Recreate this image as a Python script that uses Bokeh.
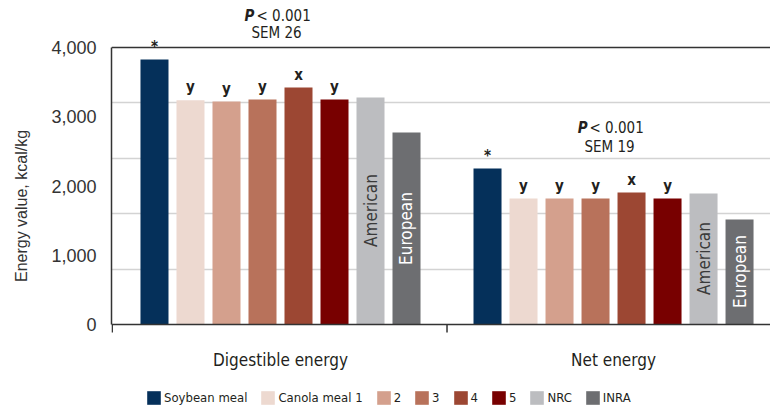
import math
from bokeh.plotting import figure
from bokeh.models import (ColumnDataSource, FixedTicker, NumeralTickFormatter, Legend,
                          LegendItem, Label, LabelSet, Span, Range1d)
from bokeh.core.properties import value
from bokeh.embed import file_html
from bokeh.resources import INLINE

# ---------------- data ----------------
groups = ["Digestible energy", "Net energy"]
series = ["Soybean meal", "Canola meal 1", "2", "3", "4", "5", "NRC", "INRA"]
colors = ["#05305a", "#edd9d0", "#d4a08d", "#b8725b", "#9c4733", "#780000", "#bcbdc0", "#6d6e71"]
de_values = [3827, 3239, 3220, 3249, 3422, 3249, 3278, 2773]
ne_values = [2253, 1819, 1819, 1819, 1906, 1819, 1892, 1516]
letters = ["*", "y", "y", "y", "x", "y", "", ""]
p_values = ["< 0.001", "< 0.001"]
sem_labels = ["SEM 26", "SEM 19"]
ref_names = {"NRC": "American", "INRA": "European"}
y_ticks = [0, 1000, 2000, 3000, 4000]

COND = "DejaVu Sans Condensed"
SANS = "Liberation Sans"
TXT = "#231f20"
AXC = "#333333"

GROUP_STEP = 9.25
BAR_W = 0.778
values_by_group = [de_values, ne_values]

def xpos(g, i):
    return g * GROUP_STEP + i

X0 = -1.194
p = figure(width=770, height=411, output_backend="svg", toolbar_location=None,
           x_range=Range1d(X0, 17.11), y_range=Range1d(-1256, 4679),
           x_axis_location=None,
           min_border_left=111, min_border_right=0, min_border_top=0, min_border_bottom=0)
p.outline_line_color = None
p.background_fill_color = "white"
p.border_fill_color = "white"

# bars, one renderer per series
items = []
for i, (name, col) in enumerate(zip(series, colors)):
    src = ColumnDataSource(dict(x=[xpos(g, i) for g in range(len(groups))],
                                top=[values_by_group[g][i] for g in range(len(groups))]))
    r = p.vbar(x="x", top="top", bottom=0, width=BAR_W, source=src, fill_color=col, line_color=None)
    items.append(LegendItem(label=name, renderers=[r]))

# grid & frame top line
p.xgrid.visible = False
p.ygrid.ticker = FixedTicker(ticks=[800, 1600, 2400, 3200])
p.ygrid.grid_line_color = "#d3d3d3"
p.ygrid.grid_line_width = 1.5
p.add_layout(Span(location=y_ticks[-1], dimension="width", line_color=AXC, line_width=1.5))

# y axis
ya = p.yaxis[0]
ya.ticker = FixedTicker(ticks=y_ticks)
ya.bounds = (y_ticks[0], y_ticks[-1])
ya.formatter = NumeralTickFormatter(format="0,0")
ya.major_tick_out = 0
ya.major_tick_in = 0
ya.minor_tick_out = 0
ya.minor_tick_in = 0
ya.axis_line_color = AXC
ya.axis_line_width = 1.5
ya.major_label_text_font = SANS
ya.major_label_text_font_size = "18px"
ya.major_label_text_color = AXC
ya.major_label_standoff = 15
ya.axis_label = "Energy value, kcal/kg"
ya.axis_label_text_font = SANS
ya.axis_label_text_font_size = "16px"
ya.axis_label_text_font_style = "normal"
ya.axis_label_text_color = AXC
ya.axis_label_standoff = 18

# category axis drawn in the frame: baseline, boundary ticks, group names
centres = [g * GROUP_STEP + (len(series) - 1) / 2 for g in range(len(groups))]
bounds = [X0 + 0.02, GROUP_STEP - 1.125, 2 * GROUP_STEP - 1.125]
p.add_layout(Span(location=0, dimension="width", line_color=AXC, line_width=1.5))
p.ray(x=bounds, y=[0] * len(bounds), length=8, length_units="screen", angle=-math.pi / 2,
      line_color=AXC, line_width=1.5)
for c, gname in zip(centres, groups):
    p.add_layout(Label(x=c, y=0, text=gname, y_offset=-35, text_align="center",
                       text_baseline="alphabetic", text_font=COND, text_font_size="17px",
                       text_color=TXT))

# significance letters
lx, ly, lt = [], [], []
for g in range(len(groups)):
    for i, t in enumerate(letters):
        if t:
            lx.append(xpos(g, i)); ly.append(values_by_group[g][i]); lt.append(t)
p.add_layout(LabelSet(x="x", y="y", text="t", source=ColumnDataSource(dict(x=lx, y=ly, t=lt)),
                      text_font=value(COND), text_font_style="bold", text_font_size="15px",
                      text_color=TXT, text_align="center", text_baseline="alphabetic",
                      y_offset=8))

# rotated reference names inside the NRC / INRA bars
rx, ry, rt, rc = [], [], [], []
label_y = {("NRC", 0): 1646, ("INRA", 0): 1386, ("NRC", 1): 953, ("INRA", 1): 765}
for g in range(len(groups)):
    for i, s in enumerate(series):
        if s in ref_names:
            rx.append(xpos(g, i)); ry.append(label_y[(s, g)]); rt.append(ref_names[s])
            rc.append("#3a3a3a" if s == "NRC" else "#ffffff")
p.add_layout(LabelSet(x="x", y="y", text="t", source=ColumnDataSource(dict(x=rx, y=ry, t=rt, c=rc)),
                      text_color="c", angle=math.pi / 2, text_font=value(COND), text_font_size="17px",
                      text_align="center", text_baseline="middle"))

# P-value and SEM annotations
ann_y = [(4375, 4116), (2744, 2484)]
for g in range(len(groups)):
    y1, y2 = ann_y[g]
    p.add_layout(Label(x=centres[g], y=y1, text="P", x_offset=-26, y_offset=6, text_align="right",
                       text_baseline="alphabetic", text_font=COND, text_font_style="bold italic",
                       text_font_size="15px", text_color=TXT))
    p.add_layout(Label(x=centres[g], y=y1, text=p_values[g], x_offset=-24, y_offset=6,
                       text_align="left", text_baseline="alphabetic", text_font=COND,
                       text_font_size="15px", text_color=TXT))
    p.add_layout(Label(x=centres[g], y=y2, text=sem_labels[g], x_offset=-4, y_offset=6,
                       text_align="center", text_baseline="alphabetic", text_font=COND,
                       text_font_size="15px", text_color=TXT))

legend = Legend(items=items, orientation="horizontal", location=(34, 5),
                glyph_width=17, glyph_height=17, label_height=17, label_width=0,
                label_standoff=2, spacing=12, padding=0, margin=0, border_line_color=None,
                background_fill_alpha=0, label_text_font=COND, label_text_font_size="13px",
                label_text_color=TXT, label_text_baseline="middle")
p.add_layout(legend, "center")

open("out.html", "w").write(file_html(p, INLINE))
